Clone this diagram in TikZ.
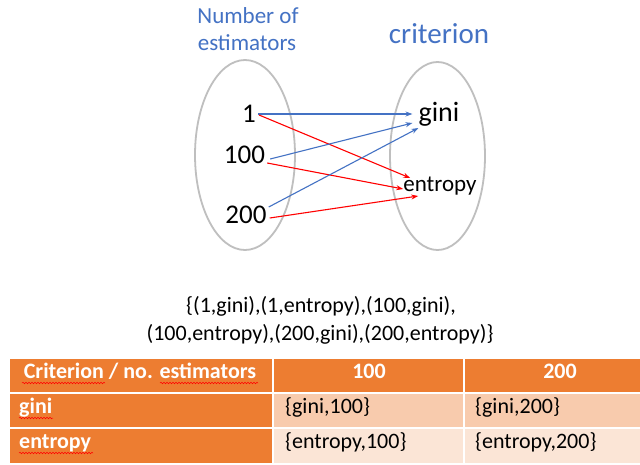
\documentclass[tikz,border=0pt]{standalone}
\usepackage{fontspec}
\setmainfont{Carlito}
\usetikzlibrary{arrows.meta,shapes.geometric,decorations.pathmorphing}
\definecolor{tblue}{HTML}{4472C4}
\definecolor{tred}{HTML}{FF0000}
\definecolor{orng}{HTML}{ED7D31}
\definecolor{peach}{HTML}{F8CBAD}
\definecolor{peachlt}{HTML}{FBE5D6}
\definecolor{ringgray}{HTML}{BFBFBF}
\begin{document}
\begin{tikzpicture}[x=1pt,y=-1pt,
  fs/.style={font=\fontsize{#1}{#1}\selectfont},
  txt/.style={inner sep=0pt, anchor=base},
  hdr/.style={inner sep=0pt, anchor=base, text=white, font=\fontsize{22}{22}\selectfont\bfseries},
  ring/.style={draw=ringgray, line width=1.8pt, ellipse, inner sep=0pt},
  barr/.style={draw=tblue, line width=1.1pt, -{Stealth[length=7pt,width=5pt]}},
  rarr/.style={draw=tred, line width=1.1pt, -{Stealth[length=7pt,width=5pt]}},
  cell/.style={draw=white, line width=1.5pt, anchor=north west, inner sep=0pt},
  squig/.style={draw=tred, line width=0.5pt, decorate, decoration={snake, amplitude=0.8pt, segment length=3pt}}
]
\useasboundingbox (0,0) rectangle (640,464);
\fill[white] (0,0) rectangle (640,464);

% ellipses
\node[ring, minimum width=100, minimum height=190] (setA) at (245,155) {};
\node[ring, minimum width=95, minimum height=188] (setB) at (437.5,156) {};

% titles
\node[txt, fs=23, text=tblue] (tA1) at (248,23) {Number of};
\node[txt, fs=23, text=tblue] (tA2) at (247,50) {estimators};
\node[txt, fs=29, text=tblue] (tB) at (439,43) {criterion};

% elements
\node[txt, fs=27] (n1) at (249,122) {1};
\node[txt, fs=27] (n100) at (244.5,163) {100};
\node[txt, fs=27] (n200) at (246,223) {200};
\node[txt, fs=28] (gini) at (439,121) {gini};
\node[txt, fs=23] (ent) at (440,191) {entropy};

% arrows
\draw[barr] ([shift={(2,-8)}]n1.base east) -- ([shift={(-6,-7)}]gini.base west);
\draw[rarr] ([shift={(3,-7)}]n1.base east) -- ([shift={(7,-13)}]ent.base west);
\draw[barr] ([shift={(5,-4)}]n100.base east) -- ([shift={(-6,2)}]gini.base west);
\draw[rarr] ([shift={(2,0)}]n100.base east) -- ([shift={(0,-2)}]ent.base west);
\draw[barr] ([shift={(2,-16)}]n200.base east) -- ([shift={(0,7)}]gini.base west);
\draw[rarr] ([shift={(3,-5)}]n200.base east) -- ([shift={(15,5)}]ent.base west);

% set text
\node[txt, fs=22] (s1) at (321,312) {\{(1,gini),(1,entropy),(100,gini),};
\node[txt, fs=22] (s2) at (320,340) {(100,entropy),(200,gini),(200,entropy)\}};

% table cells
\node[cell, fill=orng, minimum width=264, minimum height=35] (c00) at (8,357) {};
\node[cell, fill=orng, minimum width=191, minimum height=35] (c01) at (272,357) {};
\node[cell, fill=orng, minimum width=190, minimum height=35] (c02) at (463,357) {};
\node[cell, fill=orng, minimum width=264, minimum height=35] (c10) at (8,392) {};
\node[cell, fill=peach, minimum width=191, minimum height=35] (c11) at (272,392) {};
\node[cell, fill=peach, minimum width=190, minimum height=35] (c12) at (463,392) {};
\node[cell, fill=orng, minimum width=264, minimum height=36] (c20) at (8,427) {};
\node[cell, fill=peachlt, minimum width=191, minimum height=36] (c21) at (272,427) {};
\node[cell, fill=peachlt, minimum width=190, minimum height=36] (c22) at (463,427) {};

% table text
\node[hdr] (h0) at (140,378) {Criterion / no. estimators};
\node[hdr] (h1) at (369,378) {100};
\node[hdr] (h2) at (560,378) {200};
\node[hdr, anchor=base west] (r1) at (19,413) {gini};
\node[hdr, anchor=base west] (r2) at (19,448) {entropy};
\node[txt, fs=22, anchor=base west] (d11) at (285,413) {\{gini,100\}};
\node[txt, fs=22, anchor=base west] (d12) at (475,413) {\{gini,200\}};
\node[txt, fs=22, anchor=base west] (d21) at (285,448) {\{entropy,100\}};
\node[txt, fs=22, anchor=base west] (d22) at (475,448) {\{entropy,200\}};

% spell-check squiggles
\draw[squig] (22,383) -- (105,383);
\draw[squig] (160,383) -- (258,383);
\draw[squig] (19,418) -- (53,418);
\draw[squig] (19,453) -- (93,453);
\end{tikzpicture}
\end{document}
